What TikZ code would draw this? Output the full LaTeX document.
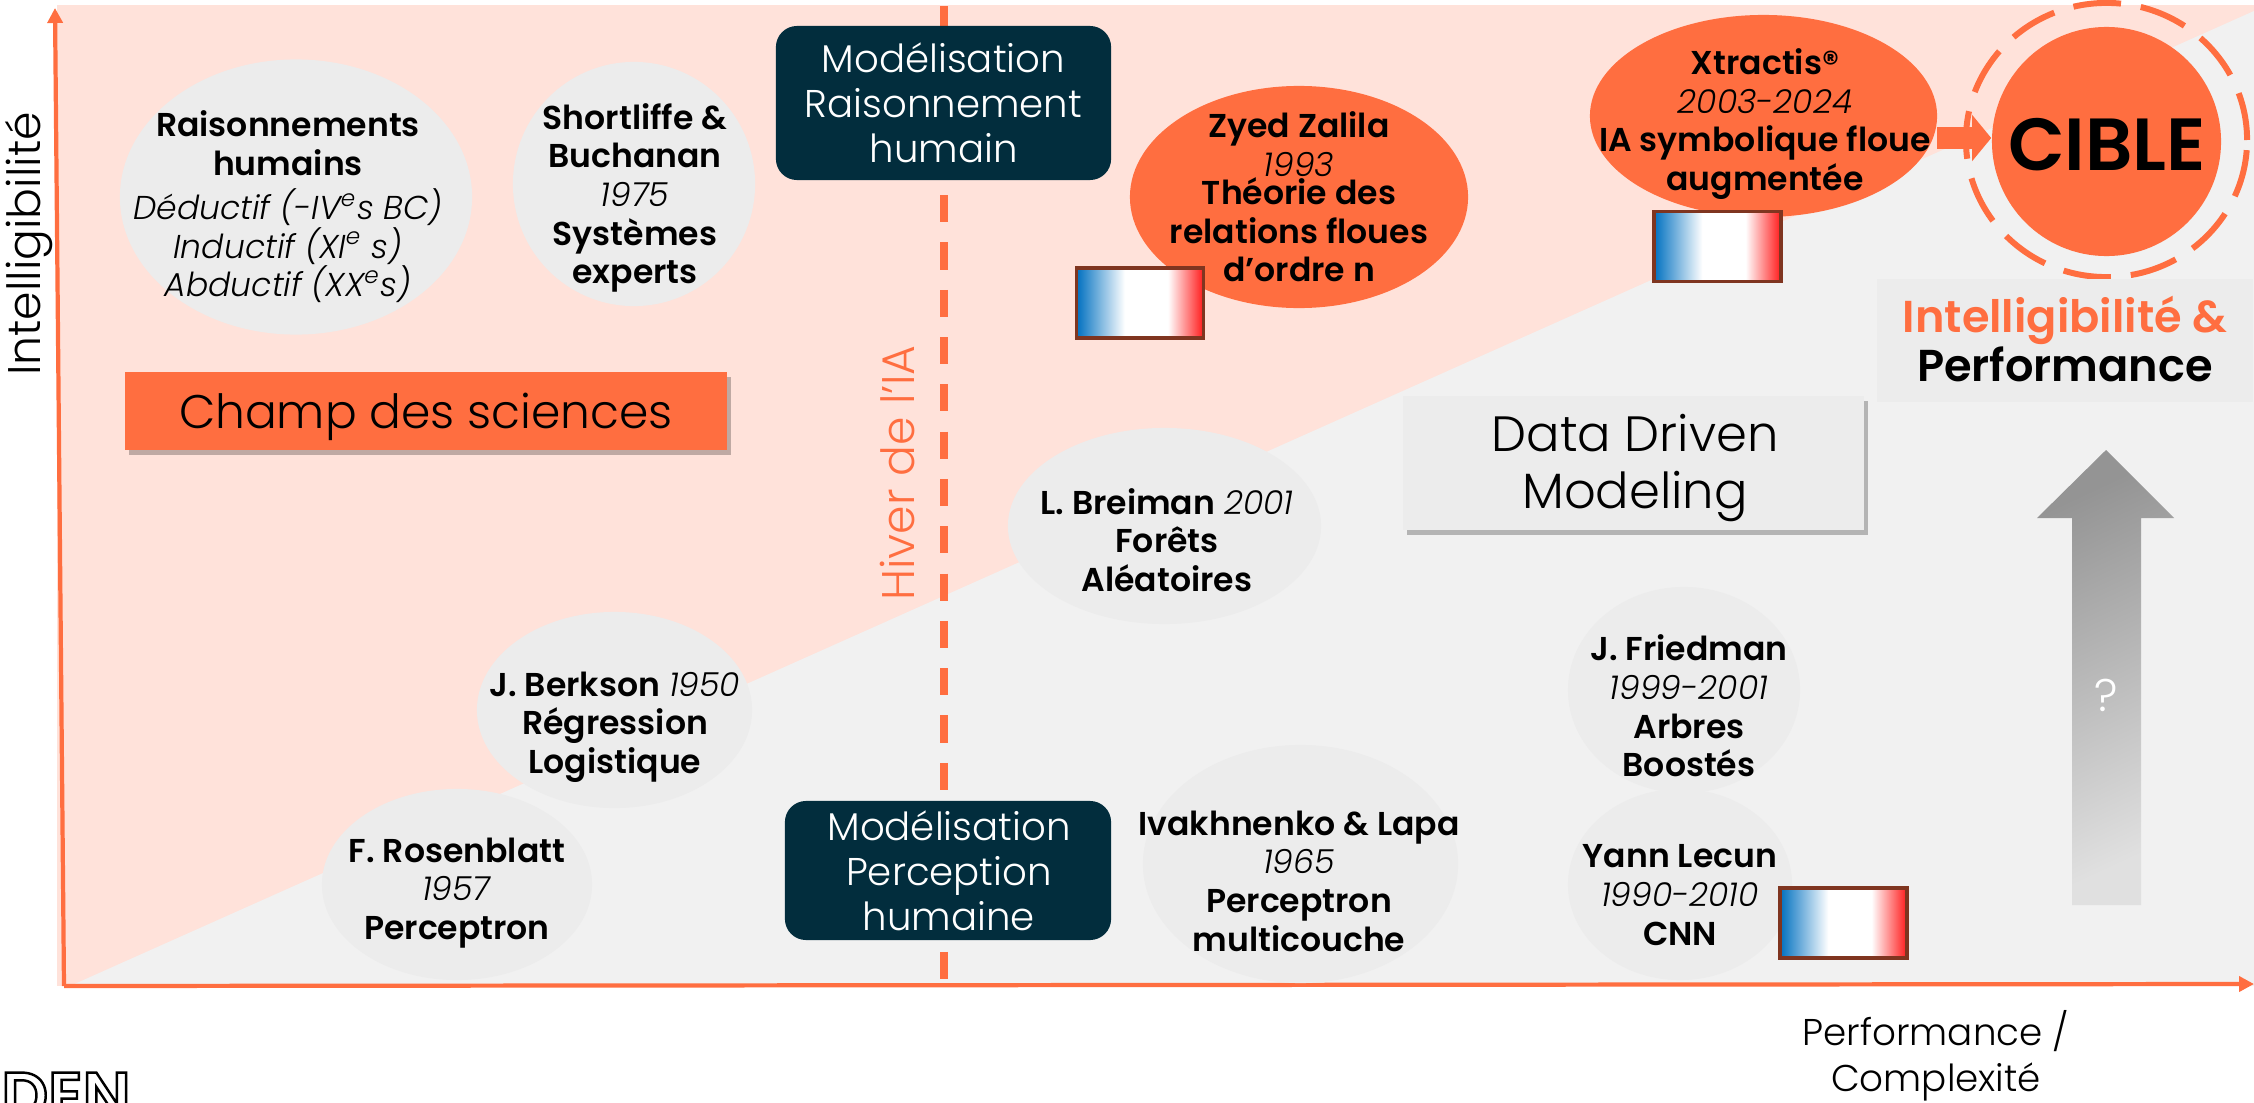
\documentclass[tikz,border=0pt]{standalone}
\usepackage{fontspec}
\setmainfont{Poppins}[UprightFont=* Light,ItalicFont=* Light Italic,BoldFont=* SemiBold]
\usetikzlibrary{arrows.meta,shapes.geometric,shadows}
\definecolor{corail}{HTML}{FF6E40}
\definecolor{rosefond}{HTML}{FFE2DA}
\definecolor{grisfond}{HTML}{F1F1F1}
\definecolor{grisell}{HTML}{ECECEC}
\definecolor{nuit}{HTML}{022D3D}
\definecolor{bordflag}{HTML}{7F3520}
\definecolor{bleuflag}{HTML}{0070C0}
\definecolor{rougeflag}{HTML}{FF1A1A}
\pgfdeclarehorizontalshading{drapeau}{100bp}{color(0bp)=(bleuflag); color(25bp)=(bleuflag); color(44bp)=(white); color(61bp)=(white); color(75bp)=(rougeflag); color(100bp)=(rougeflag)}
\tikzset{
  ell/.style={ellipse,inner sep=0pt},
  texte/.style={align=center,yshift=-0.05cm,font=\fontsize{9.4}{11}\selectfont},
  boite/.style={fill=nuit,rounded corners=6pt,inner sep=0pt},
  titre/.style={white,align=center,font=\fontsize{11}{12.8}\selectfont},
  flag/.style={draw=bordflag,line width=0.9pt,shading=drapeau,inner sep=0pt,minimum width=1.27cm,minimum height=0.7cm},
  axe/.style={corail,line width=1.2pt,-{Triangle[length=0.15cm,width=0.15cm]}},
  ombre/.style={drop shadow={shadow xshift=0.04cm,shadow yshift=-0.05cm,fill=black,opacity=0.25}}
}
\begin{document}
\begin{tikzpicture}[x=0.01cm,y=-0.01cm]
  \useasboundingbox (0,0) rectangle (2254,1103);
  % fond
  \fill[rosefond] (57,5) rectangle (2254,986);
  \fill[grisfond] (70,986) -- (2254,11) -- (2254,986) -- cycle;
  \coordinate (origine) at (64,986);
  \coordinate (haut) at (55,8);
  \coordinate (droite) at (2254,984);
  \coordinate (hiverhaut) at (944,6);
  \coordinate (hiverbas) at (944,986);
  \draw[corail,line width=2.3pt,dash pattern=on 7.7pt off 5.75pt] (hiverhaut) -- (hiverbas);
  \draw[axe] (origine) -- (haut);
  \draw[axe] (origine) -- (droite);

  \draw (29,244) node[rotate=90,font=\fontsize{13}{13}\selectfont] (intell) {Intelligibilité};
  \draw (1936,1056) node[align=center,font=\fontsize{10.6}{13}\selectfont] (perf) {Performance /\\Complexité};
  \draw (897,473) node[rotate=90,corail,font=\fontsize{13}{13}\selectfont] (hiver) {Hiver de l'IA};

  \draw (296,197) node[ell,fill=grisell,minimum width=3.52cm,minimum height=2.75cm] (raison) {};
  \draw (288,202) node[texte] (raisontxt) {\textbf{Raisonnements}\\\textbf{humains}\\[1.5pt]\textit{Déductif (-IV\textsuperscript{e}s BC)}\\\textit{Inductif (XI\textsuperscript{e} s)}\\\textit{Abductif (XX\textsuperscript{e}s)}};
  \draw (634,184) node[ell,fill=grisell,minimum width=2.42cm,minimum height=2.44cm] (short) {};
  \draw (635,193) node[texte] (shorttxt) {\textbf{Shortliffe \&}\\\textbf{Buchanan}\\\textit{1975}\\\textbf{Systèmes}\\\textbf{experts}};
  \draw (426,411) node[fill=corail,minimum width=6.02cm,minimum height=0.78cm,inner sep=0pt,ombre] (champ) {};
  \draw (426,417) node[font=\fontsize{13.4}{13.4}\selectfont] (champtxt) {Champ des sciences};

  \draw (943.5,103) node[boite,minimum width=3.35cm,minimum height=1.54cm] (modraison) {};
  \draw (943.5,103) node[titre] (modraisontxt) {Modélisation\\Raisonnement\\humain};
  \draw (948,870.5) node[boite,minimum width=3.26cm,minimum height=1.39cm] (modperc) {};
  \draw (949,871) node[titre] (modperctxt) {Modélisation\\Perception\\humaine};

  \draw (1299,197) node[ell,fill=corail,minimum width=3.38cm,minimum height=2.22cm] (zyed) {};
  \draw (1299,192) node[texte] (zyedtxt) {\textbf{Zyed Zalila}\\\textit{1993}\\[-3pt]\textbf{Théorie des}\\\textbf{relations floues}\\\textbf{d’ordre n}};
  \draw (1140,303) node[flag] (flaga) {};

  \draw (1763.5,116) node[ell,fill=corail,minimum width=3.47cm,minimum height=2.02cm] (xtractis) {};
  \draw (1765,119) node[texte] (xtractistxt) {\textbf{Xtractis®}\\\textit{2003-2024}\\\textbf{IA symbolique floue}\\\textbf{augmentée}};
  \draw (1717.5,246.5) node[flag] (flagb) {};

  \draw (2106.5,141.5) node[ell,fill=corail,minimum width=2.29cm,minimum height=2.29cm] (cible) {};
  \draw (2107,145) node[font=\bfseries\fontsize{21}{21}\selectfont] (cibletxt) {CIBLE};
  \draw (2106.5,140) node[ell,draw=corail,line width=1.7pt,dash pattern=on 13.6pt off 5.7pt,minimum width=2.81cm,minimum height=2.74cm] (ciblecontour) {};
  \coordinate (depart) at (1937,138);
  \draw[corail,line width=6.2pt,-{Triangle[length=0.19cm,width=0.45cm]}] (depart) -- (depart -| cible.west);

  \draw (2065,340.5) node[fill=grisell,minimum width=3.76cm,minimum height=1.23cm,inner sep=0pt] (but) {};
  \draw (2065,339) node[align=center,font=\bfseries\fontsize{12.7}{14}\selectfont] (buttxt) {\textcolor{corail}{Intelligibilité \&}\\Performance};

  \draw (1633.5,463) node[fill=grisell,minimum width=4.6cm,minimum height=1.33cm,inner sep=0pt,ombre] (data) {};
  \draw (1635,468) node[align=center,font=\fontsize{14.1}{16}\selectfont] (datatxt) {Data Driven\\Modeling};

  \draw (1164.5,526) node[ell,fill=grisell,minimum width=3.13cm,minimum height=1.96cm] (breiman) {};
  \draw (1167,535) node[texte] (breimantxt) {\textbf{L. Breiman} \textit{2001}\\\textbf{Forêts}\\\textbf{Aléatoires}};
  \draw (1684,690) node[ell,fill=grisell,minimum width=2.32cm,minimum height=2.06cm] (friedman) {};
  \draw (1689,701) node[texte] (friedmantxt) {\textbf{J. Friedman}\\\textit{1999-2001}\\\textbf{Arbres}\\\textbf{Boostés}};
  \draw (1680,884.5) node[ell,fill=grisell,minimum width=2.24cm,minimum height=1.91cm] (lecun) {};
  \draw (1680,890) node[texte] (lecuntxt) {\textbf{Yann Lecun}\\\textit{1990-2010}\\\textbf{CNN}};
  \draw (1843.5,923) node[flag] (flagc) {};
  \draw (1300.5,864) node[ell,fill=grisell,minimum width=3.15cm,minimum height=2.38cm] (ivakh) {};
  \draw (1299,876) node[texte] (ivakhtxt) {\textbf{Ivakhnenko \& Lapa}\\\textit{1965}\\\textbf{Perceptron}\\\textbf{multicouche}};
  \draw (614.5,710) node[ell,fill=grisell,minimum width=2.75cm,minimum height=1.96cm] (berkson) {};
  \draw (615,722) node[texte] (berksontxt) {\textbf{J. Berkson} \textit{1950}\\\textbf{Régression}\\\textbf{Logistique}};
  \draw (457,884.5) node[ell,fill=grisell,minimum width=2.7cm,minimum height=1.91cm] (rosen) {};
  \draw (457,888) node[texte] (rosentxt) {\textbf{F. Rosenblatt}\\\textit{1957}\\\textbf{Perceptron}};

  % fleche grise
  \shade[top color=black!42,bottom color=black!12,shading angle=25] (2106,450) -- (2174,518) -- (2141,518) -- (2141,905) -- (2072,905) -- (2072,518) -- (2037,518) -- cycle;
  \draw (2106,695) node[white,font=\fontsize{13}{13}\selectfont] (question) {?};

  \draw (66,1118) node[anchor=base,font=\bfseries\fontsize{18.5}{18.5}\selectfont] (logo) {\special{pdf:code 1 Tr 0.7 w}DEN\special{pdf:code 0 Tr}};
\end{tikzpicture}
\end{document}
